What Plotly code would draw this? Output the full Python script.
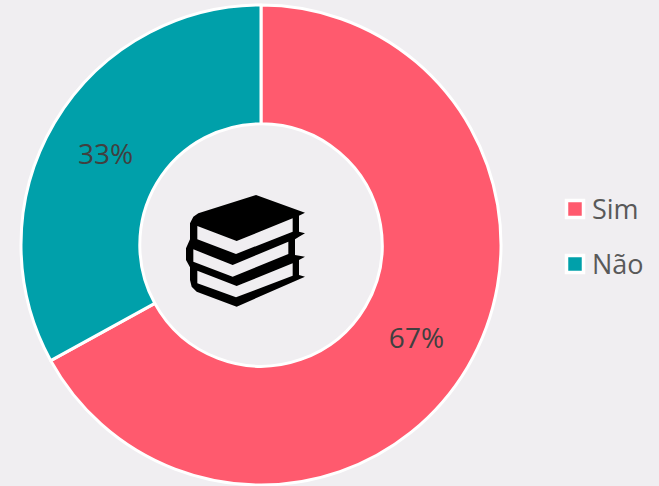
import plotly.graph_objects as go

W, H = 659, 486
categories = ["Sim", "Não"]
values = [67, 33]
colors = ["#FF5A6E", "#00A0AA"]
BG = "#F0EEF1"

# book icon outline, in icon-local units
icon_outline = [(258,45),(405,98),(387,107),(387,155),(405,160),(387,170),(375,178),(375,225),(405,230),(387,240),
                (387,285),(405,290),(200,380),(80,335),(65,320),(60,300),(60,262),(48,240),(48,205),(60,178),(60,130),(70,110),(85,100)]
icon_pages = [
    [(82,138),(200,183),(368,115),(368,155),(198,222),(82,178)],
    [(70,208),(188,255),(355,185),(355,222),(188,290),(70,245)],
    [(82,272),(200,318),(368,250),(368,287),(198,352),(82,310)],
]
legend_y = [209, 264]

def path(pts):
    out = []
    for i, (x, y) in enumerate(pts):
        px = (170 + x / 3) / W
        py = 1 - (180 + y / 3) / H
        out.append(("M" if i == 0 else "L") + f"{px:.5f},{py:.5f}")
    return " ".join(out) + " Z"

shapes = [dict(type="path", xref="paper", yref="paper", path=path(icon_outline), fillcolor="black", line_width=0, layer="above")]
shapes += [dict(type="path", xref="paper", yref="paper", path=path(p), fillcolor=BG, line_width=0, layer="above") for p in icon_pages]

annotations = []
for name, col, y in zip(categories, colors, legend_y):
    shapes.append(dict(type="rect", xref="paper", yref="paper",
                       x0=566.5/W, x1=583.5/W, y0=1-(y+8.5)/H, y1=1-(y-8.5)/H,
                       fillcolor=col, line=dict(color="white", width=3.5), layer="above"))
    annotations.append(dict(text=name, xref="paper", yref="paper", x=590/W, y=1-(y-1)/H,
                            xanchor="left", yanchor="middle", showarrow=False,
                            font=dict(family="Open Sans", size=27, color="#595959")))

fig = go.Figure(go.Pie(
    labels=categories, values=values, hole=0.505, sort=False, direction="clockwise", rotation=0,
    marker=dict(colors=colors, line=dict(color="white", width=3)),
    texttemplate="%{percent:.0%}", textposition="inside", insidetextorientation="horizontal",
    textfont=dict(family="Open Sans", size=28, color="#404040"),
    domain=dict(x=[21/W, 501/W], y=[1/H, 481/H]),
    hoverinfo="label+percent", showlegend=False,
))
fig.update_layout(
    width=W, height=H, margin=dict(l=0, r=0, t=0, b=0),
    paper_bgcolor=BG, plot_bgcolor=BG, shapes=shapes, annotations=annotations, showlegend=False,
)
fig.write_html("out.html", config=dict(displayModeBar=False),
               post_script="document.body.style.margin='0';document.body.style.background='%s';" % BG)
